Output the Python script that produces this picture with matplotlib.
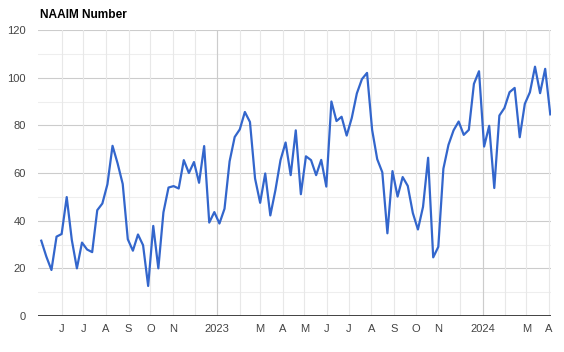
import matplotlib
matplotlib.use("Agg")
import matplotlib.pyplot as plt
import pandas as pd

plt.rcParams['font.family'] = ['Liberation Sans', 'DejaVu Sans']

title = "NAAIM Number"
start_date = "2022-05-04"  # weekly readings (Wednesdays)
naaim_values = [
    31.6, 24.9, 19.3, 33.3, 34.4, 49.9, 31.9, 20.0, 30.8, 27.9, 26.8, 44.4, 47.2,
    55.3, 71.4, 64.0, 55.4, 32.2, 27.4, 34.2, 29.7, 12.6, 37.8, 20.0, 43.5, 53.9,
    54.5, 53.5, 65.4, 60.0, 64.6, 55.9, 71.3, 39.2, 43.6, 38.8, 45.0, 64.9, 75.1,
    78.3, 85.6, 81.4, 57.7, 47.5, 59.8, 42.2, 52.8, 65.4, 72.8, 59.1, 77.9, 51.1,
    67.0, 65.4, 59.1, 65.5, 54.3, 90.0, 81.8, 83.6, 75.7, 83.1, 93.4, 99.4, 102.0,
    78.1, 65.8, 60.3, 34.7, 60.8, 50.1, 58.3, 54.6, 43.2, 36.3, 45.8, 66.4, 24.6,
    29.0, 61.8, 71.8, 77.9, 81.6, 76.0, 78.1, 97.4, 102.7, 71.1, 79.8, 53.7, 84.1,
    87.3, 93.9, 95.7, 75.0, 89.0, 93.9, 104.6, 93.5, 103.7, 84.6,
]
y_ticks = [0, 20, 40, 60, 80, 100, 120]
month_ticks = ["2022-06-01", "2022-07-01", "2022-08-01", "2022-09-01", "2022-10-01",
               "2022-11-01", "2022-12-01", "2023-01-01", "2023-02-01", "2023-03-01",
               "2023-04-01", "2023-05-01", "2023-06-01", "2023-07-01", "2023-08-01",
               "2023-09-01", "2023-10-01", "2023-11-01", "2023-12-01", "2024-01-01",
               "2024-02-01", "2024-03-01", "2024-04-01"]
month_labels = ["J", "J", "A", "S", "O", "N", "", "2023", "", "M", "A", "M", "J",
                "J", "A", "S", "O", "N", "", "2024", "", "M", "A"]
year_ticks = ["2023-01-01", "2024-01-01"]

dates = pd.date_range(start_date, periods=len(naaim_values), freq="7D")

fig = plt.figure(figsize=(5.64, 3.52), dpi=100)
ax = fig.add_axes([38/564, 36/352, 513/564, 286/352])

for v in range(10, 120, 20):
    ax.axhline(v, color="#eeeeee", lw=0.8, zorder=0)
for v in y_ticks[1:]:
    ax.axhline(v, color="#cccccc", lw=0.8, zorder=0)
mt = pd.to_datetime(month_ticks)
for d in mt:
    ax.axvline(d, color="#e8e8e8", lw=0.8, zorder=0)
for d in pd.to_datetime(year_ticks):
    ax.axvline(d, color="#cccccc", lw=0.8, zorder=0.5)

ax.plot(dates, naaim_values, color="#3366cc", lw=1.6, zorder=3,
        solid_joinstyle="round")

ax.axhline(0, color="#333333", lw=1.3, zorder=4)

ax.set_ylim(0, 120)
ax.set_xlim(pd.Timestamp("2022-04-29 12:00"), pd.Timestamp("2024-04-04"))
ax.set_yticks(y_ticks)
ax.set_yticklabels([str(v) for v in y_ticks])
ax.set_xticks(mt)
ax.set_xticklabels(month_labels)
ax.tick_params(axis="both", length=0, labelsize=8, labelcolor="#444444")
ax.tick_params(axis="y", pad=9)
ax.tick_params(axis="x", pad=6)
for s in ax.spines.values():
    s.set_visible(False)
ax.set_facecolor("white")

fig.text(40/564, 1 - 15/352, title, fontsize=8.6, fontweight="bold",
         color="#000000", va="center", ha="left")

fig.savefig("out.png", dpi=100)
